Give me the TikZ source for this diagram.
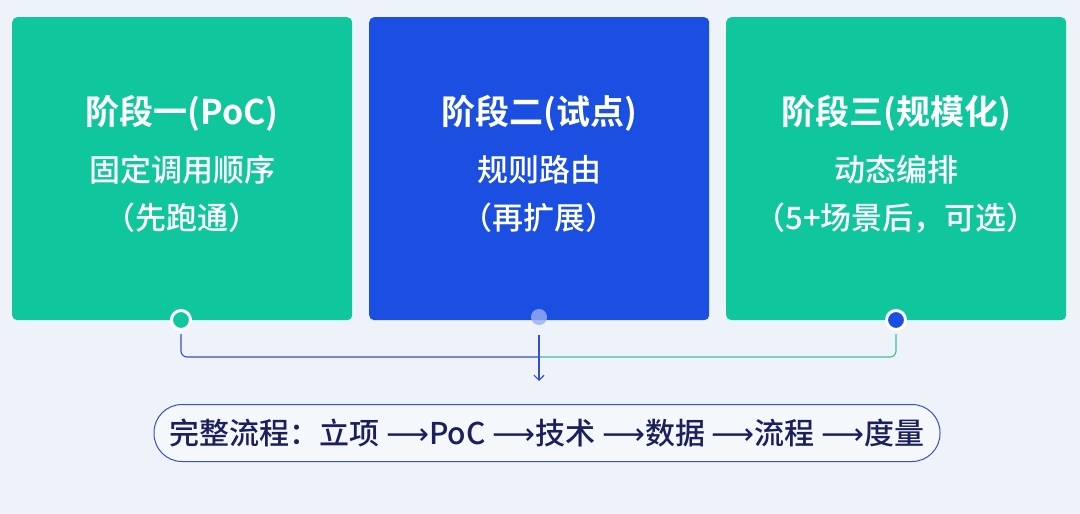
\documentclass[tikz,border=0pt]{standalone}
\usepackage{fontspec}
\setmainfont{Noto Sans CJK SC}[BoldFont=* Bold]
\newfontfamily\cjkm{Noto Sans CJK SC}[UprightFont=* Medium]
\newfontfamily\arrfont{DejaVu Sans}
\usetikzlibrary{arrows.meta}
\definecolor{bgc}{HTML}{EEF3F9}
\definecolor{grn}{HTML}{10C69C}
\definecolor{blu}{HTML}{1B4FE2}
\definecolor{navy}{HTML}{1A1F5E}
\definecolor{lnblue}{HTML}{3550C8}
\definecolor{lngreen}{HTML}{3CC08E}
\tikzset{
  card/.style={rounded corners=5pt, minimum width=340pt, minimum height=303pt, inner sep=0pt, anchor=north west},
  ttl/.style={font=\fontsize{34}{38}\selectfont\bfseries, text=white},
  sub/.style={font=\cjkm\fontsize{31}{48}\selectfont, text=white, align=center},
  conn/.style={line width=1.1pt, rounded corners=6pt},
}
\begin{document}
\begin{tikzpicture}[x=1pt,y=-1pt]
\fill[bgc] (0,0) rectangle (1080,514);
\useasboundingbox (0,0) rectangle (1080,514);
\node[card, fill=grn] (c1) at (12,17) {};
\node[card, fill=blu] (c2) at (369,17) {};
\node[card, fill=grn] (c3) at (726,17) {};
\node[ttl] (t1) at (182,113) {阶段一(PoC)};
\node[ttl] (t2) at (539,113) {阶段二(试点)};
\node[ttl] (t3) at (896,113) {阶段三(规模化)};
\node[sub] (s1) at (182,194) {固定调用顺序\\（先跑通）};
\node[sub] (s2) at (539,194) {规则路由\\（再扩展）};
\node[sub] (s3) at (896,194) {动态编排\\（5+场景后，可选）};
\node[circle, fill=grn, draw=white, line width=3pt, minimum size=19pt, inner sep=0pt] (d1) at (181,320) {};
\node[circle, fill=white!55!blu, opacity=0.8, minimum size=16pt, inner sep=0pt] (d2) at (539,317) {};
\node[circle, fill=blu, draw=white, line width=3pt, minimum size=19pt, inner sep=0pt] (d3) at (896,320) {};
\coordinate (m) at (539,357);
\coordinate (a0) at (539,335);
\draw[conn, lnblue] ([yshift=-3pt]d1.south) |- (m);
\draw[conn, lngreen] ([yshift=-3pt]d3.south) |- (m);
\node[draw=lnblue, line width=1pt, rounded corners=28pt, minimum width=786pt, minimum height=57pt, fill=bgc!60!white] (flow) at (547,433)
  {\cjkm\fontsize{30}{32}\selectfont\color{navy}完整流程：立项 {\arrfont ⟶}PoC {\arrfont ⟶}技术 {\arrfont ⟶}数据 {\arrfont ⟶}流程 {\arrfont ⟶}度量};
\draw[lnblue, line width=1.1pt, -{Straight Barb[length=5pt,width=10pt]}] (a0) -- (539,381) coordinate (a1);
\end{tikzpicture}
\end{document}
